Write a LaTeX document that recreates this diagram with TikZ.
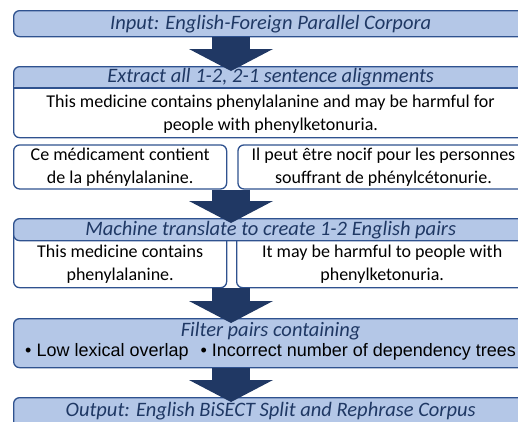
\documentclass[tikz,border=0pt]{standalone}
\usepackage{fontspec}
\setmainfont{Carlito}
\newfontfamily\bulletfont{Liberation Sans}
\usetikzlibrary{arrows.meta, positioning}
\definecolor{colorHeader}{RGB}{180,199,231}
\definecolor{colorBorder}{RGB}{47,82,143}
\definecolor{colorTitle}{RGB}{31,56,100}
\definecolor{colorArrow}{RGB}{32,56,100}
\tikzset{
  panel/.style={draw=colorBorder, line width=1.3pt, rounded corners=6pt, fill=white, inner sep=0pt},
  headpanel/.style={panel, fill=colorHeader},
  headband/.style={path picture={\fill[colorHeader] (path picture bounding box.north west) rectangle ([yshift=-22pt]path picture bounding box.north east);}},
  title/.style={font=\fontsize{20.5}{24}\selectfont\itshape, text=colorTitle, inner sep=0pt},
  sentence/.style={font=\fontsize{18}{23}\selectfont, align=center, inner sep=0pt},
  flow/.style={line width=38pt, draw=colorArrow, -{Triangle[width=84pt, length=22pt, line width=0pt]}, shorten >=-5pt},
}

\begin{document}
\begin{tikzpicture}[x=1pt, y=-1pt]
\clip (0,0) rectangle (518,421);
\coordinate (ax) at (231,0);
% input
\node[headpanel, anchor=north west, minimum width=514pt, minimum height=26pt] (input) at (13,10) {};
\node[title] (inputtxt) at (input.center) {Input: English-Foreign Parallel Corpora};
% extract
\node[panel, headband, anchor=north west, minimum width=514pt, minimum height=71pt] (extract) at (13,66) {};
\draw[colorBorder, line width=1.3pt] ([yshift=-22pt]extract.north west) -- ([yshift=-22pt]extract.north east);
\node[title] (extracthd) at ([yshift=-11pt]extract.north) {Extract all 1-2, 2-1 sentence alignments};
\node[sentence] (extracttxt) at ([yshift=-48pt]extract.north) {This medicine contains phenylalanine and may be harmful for\\people with phenylketonuria.};
% french side
\node[panel, below=6pt of extract.south west, anchor=north west, minimum width=213pt, minimum height=44pt] (frleft) {};
\node[sentence] (frlefttxt) at (frleft.center) {Ce médicament contient\\de la phénylalanine.};
\node[panel, right=10pt of frleft.north east, anchor=north west, minimum width=291pt, minimum height=44pt] (frright) {};
\node[sentence] (frrighttxt) at (frright.center) {Il peut être nocif pour les personnes\\souffrant de phénylcétonurie.};
% machine translation
\node[panel, anchor=north west, minimum width=213pt, minimum height=58pt] (enleft) at (13,229) {};
\node[panel, anchor=north west, minimum width=291pt, minimum height=58pt] (enright) at (236,229) {};
\node[headpanel, anchor=north west, minimum width=514pt, minimum height=22pt] (mt) at (13,218) {};
\node[title] (mttxt) at (mt.center) {Machine translate to create 1-2 English pairs};
\node[sentence] (enlefttxt) at ([yshift=-6pt]enleft.center) {This medicine contains\\phenylalanine.};
\node[sentence] (enrighttxt) at ([yshift=-6pt]enright.center) {It may be harmful to people with\\phenylketonuria.};
% filter
\node[headpanel, anchor=north west, minimum width=514pt, minimum height=49pt] (filter) at (13,318) {};
\node[title] (filterhd) at ([yshift=-13pt]filter.north) {Filter pairs containing};
\node[font=\bulletfont\fontsize{18}{22}\selectfont, inner sep=0pt] (filtertxt) at ([yshift=-34pt]filter.north) {\textbullet~Low lexical overlap\hspace{12pt}\textbullet~Incorrect number of dependency trees};
% output
\node[headpanel, anchor=north west, minimum width=514pt, minimum height=40pt] (output) at (13,397) {};
\node[title] (outputtxt) at ([yshift=-14pt]output.north) {Output: English BiSECT Split and Rephrase Corpus};
% arrows
\draw[flow] (input.south -| ax) -- (extract.north -| ax);
\draw[flow] (frleft.south -| ax) -- (mt.north -| ax);
\draw[flow] (enleft.south -| ax) -- (filter.north -| ax);
\draw[flow] (filter.south -| ax) -- (output.north -| ax);
\end{tikzpicture}
\end{document}
